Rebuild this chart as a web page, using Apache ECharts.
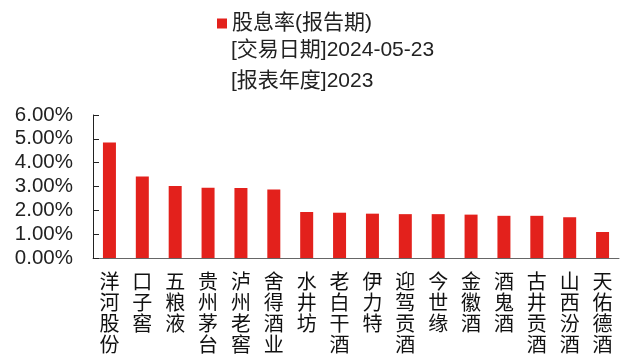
<!DOCTYPE html>
<html><head><meta charset="utf-8">
<script src="https://cdn.jsdelivr.net/npm/echarts@6/dist/echarts.min.js"></script>
<style>html,body{margin:0;padding:0;background:#fff}#c{width:629px;height:361px}</style>
</head><body><div id="c"></div>
<script>
const categories = ['洋河股份','口子窖','五粮液','贵州茅台','泸州老窖','舍得酒业','水井坊','老白干酒','伊力特','迎驾贡酒','今世缘','金徽酒','酒鬼酒','古井贡酒','山西汾酒','天佑德酒'];
const values = [4.85,3.42,3.02,2.95,2.94,2.87,1.93,1.90,1.86,1.84,1.84,1.82,1.77,1.77,1.71,1.09];
const seriesName = '股息率(报告期)';
const noteLines = ['[交易日期]2024-05-23','[报表年度]2023'];
const yTicks = [0,1,2,3,4,5,6];

const FONT = '"Liberation Sans", Arial, "Noto Sans CJK SC", sans-serif';
const chart = echarts.init(document.getElementById('c'));
chart.setOption({
  animation:false,
  textStyle:{fontFamily:FONT},
  legend:{left:212,top:8,itemWidth:10,itemHeight:10,itemGap:0,
    textStyle:{fontSize:21,color:'#222',fontFamily:FONT},
    icon:'rect',data:[seriesName]},
  graphic: noteLines.map((t,i)=>({type:'text',left:231,top:40+i*31,
    style:{text:t,fontSize:21,fill:'#222',fontFamily:FONT}})),
  grid:{left:93,right:10,top:115,bottom:103,containLabel:false},
  xAxis:{type:'category',data:categories,
    axisLine:{lineStyle:{color:'#666',width:1}},
    axisTick:{inside:true,length:6,lineStyle:{color:'#222'}},
    axisLabel:{interval:0,margin:15,fontSize:20,lineHeight:21,color:'#111',fontFamily:FONT,
      formatter:v=>v.split('').join('\n'),verticalAlign:'top'}},
  yAxis:{type:'value',min:yTicks[0],max:yTicks[yTicks.length-1],interval:1,
    splitLine:{show:false},
    axisLine:{show:true,lineStyle:{color:'#222'}},
    axisTick:{show:true,inside:true,length:6,lineStyle:{color:'#222'}},
    axisLabel:{fontSize:20.5,color:'#222',margin:20,fontFamily:FONT,formatter:v=>v.toFixed(2)+'%'}},
  series:[{name:seriesName,type:'bar',data:values,barWidth:13,
    itemStyle:{color:'#e3211c'}}]
});
</script></body></html>
